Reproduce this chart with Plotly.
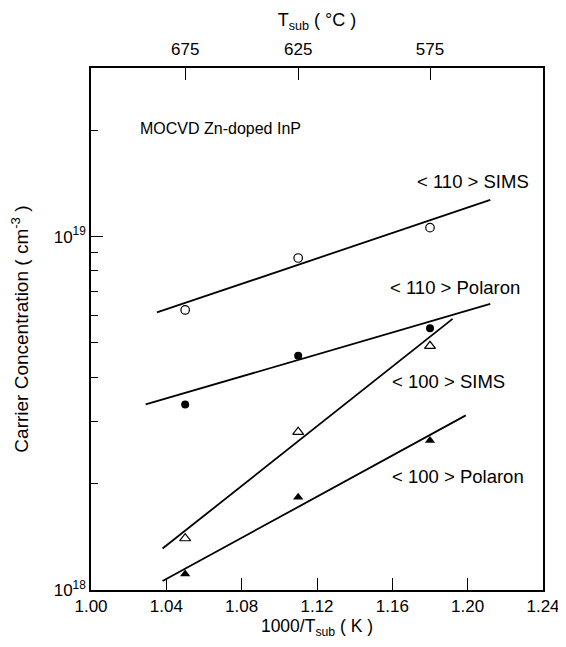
import math
import plotly.graph_objects as go

# Data
x_pts = [1.05, 1.11, 1.18]
sims_110 = [6.2e18, 8.7e18, 1.06e19]
polaron_110 = [3.35e18, 4.6e18, 5.5e18]
sims_100 = [1.40e18, 2.8e18, 4.9e18]
polaron_100 = [1.11e18, 1.83e18, 2.65e18]

# Fit-line endpoints
fit_sims_110_x = [1.035, 1.212]
fit_sims_110_y = [6.1e18, 1.27e19]
fit_pol_110_x = [1.029, 1.212]
fit_pol_110_y = [3.35e18, 6.45e18]
fit_sims_100_x = [1.038, 1.192]
fit_sims_100_y = [1.31e18, 5.85e18]
fit_pol_100_x = [1.038, 1.199]
fit_pol_100_y = [1.06e18, 3.12e18]

x_ticks = [1.00, 1.04, 1.08, 1.12, 1.16, 1.20, 1.24]
x_ticktext = ["1.00", "1.04", "1.08", "1.12", "1.16", "1.20", "1.24"]
top_tickvals = [1.05, 1.11, 1.18]
top_ticktext = ["675", "625", "575"]
y_major = [1e18, 1e19]
y_major_text = ["10<sup>18</sup>", "10<sup>19</sup>"]
y_minor = [2e18, 3e18, 4e18, 5e18, 6e18, 7e18, 8e18, 9e18, 2e19]

series_labels = ["< 110 > SIMS", "< 110 > Polaron", "< 100 > SIMS", "< 100 > Polaron"]
label_x = [1.172, 1.1575, 1.1585, 1.1585]
label_y = [1.43e19, 7.2e18, 3.9e18, 2.1e18]
title_text = "MOCVD Zn-doped InP"
title_pos = (1.025, 2.02e19)

FONT = "Liberation Sans, Arial, Helvetica, sans-serif"
LW = 1.8

fig = go.Figure()

for fx, fy in [(fit_sims_110_x, fit_sims_110_y), (fit_pol_110_x, fit_pol_110_y),
               (fit_sims_100_x, fit_sims_100_y), (fit_pol_100_x, fit_pol_100_y)]:
    fig.add_trace(go.Scatter(x=fx, y=fy, mode="lines",
                             line=dict(color="black", width=LW), showlegend=False))

fig.add_trace(go.Scatter(x=x_pts, y=sims_110, mode="markers", showlegend=False,
                         marker=dict(symbol="circle-open", size=8.5, color="black",
                                     line=dict(width=1.2))))
fig.add_trace(go.Scatter(x=x_pts, y=polaron_110, mode="markers", showlegend=False,
                         marker=dict(symbol="circle", size=8, color="black")))
fig.add_trace(go.Scatter(x=x_pts, y=sims_100, mode="markers", showlegend=False,
                         marker=dict(symbol="triangle-up-open", size=9.5, color="black",
                                     line=dict(width=1.2))))
fig.add_trace(go.Scatter(x=x_pts, y=polaron_100, mode="markers", showlegend=False,
                         marker=dict(symbol="triangle-up", size=9, color="black")))

# helper trace for the top axis and the major-tick overlay axis
fig.add_trace(go.Scatter(x=x_pts, y=sims_110, mode="markers", xaxis="x2", yaxis="y2",
                         marker=dict(opacity=0), showlegend=False, hoverinfo="skip"))

for t, lx, ly in zip(series_labels, label_x, label_y):
    fig.add_annotation(x=lx, y=math.log10(ly), yref="y", xref="x", text=t, showarrow=False,
                       xanchor="left", yanchor="middle",
                       font=dict(family=FONT, size=18.5, color="black"))

fig.add_annotation(x=title_pos[0], y=math.log10(title_pos[1]), xref="x", yref="y",
                   text=title_text, showarrow=False, xanchor="left", yanchor="middle",
                   font=dict(family=FONT, size=16, color="black"))

axis_common = dict(tickwidth=1.2, tickcolor="black", showline=True, linecolor="black",
                   linewidth=1.5, showgrid=False, zeroline=False, automargin=False)

all_y_ticks = y_major + y_minor
all_y_text = y_major_text + [""] * len(y_minor)

fig.update_layout(
    width=556, height=631,
    margin=dict(l=83, r=21, t=60, b=49),
    paper_bgcolor="white", plot_bgcolor="white",
    font=dict(family=FONT, size=17, color="black"),
    xaxis=dict(range=[1.00, 1.24], tickmode="array", tickvals=x_ticks, ticktext=x_ticktext,
               ticks="inside", ticklen=12, mirror=True, tickfont=dict(size=17),
               ticklabeloverflow="allow",
               title=dict(text="1000/T<sub>sub</sub> ( K )", standoff=11,
                          font=dict(size=17.5)), **axis_common),
    xaxis2=dict(range=[1.00, 1.24], overlaying="x", side="top", tickmode="array",
                tickvals=top_tickvals, ticktext=top_ticktext,
                ticks="inside", ticklen=12, tickfont=dict(size=17), ticklabelstandoff=4,
                title=dict(text="T<sub>sub</sub> ( °C )", standoff=9,
                           font=dict(size=18)), **axis_common),
    yaxis=dict(type="log", range=[18, 19.4771], tickmode="array", tickvals=all_y_ticks,
               ticktext=all_y_text, ticks="inside", ticklen=7, mirror=True,
               tickfont=dict(size=17),
               title=dict(text="Carrier Concentration ( cm<sup>-3</sup> )", standoff=20,
                          font=dict(size=19)), **axis_common),
    yaxis2=dict(type="log", range=[18, 19.4771], overlaying="y", side="left",
                tickmode="array", tickvals=y_major, showticklabels=False,
                ticks="inside", ticklen=12, **axis_common),
)

fig.write_html("out.html")
